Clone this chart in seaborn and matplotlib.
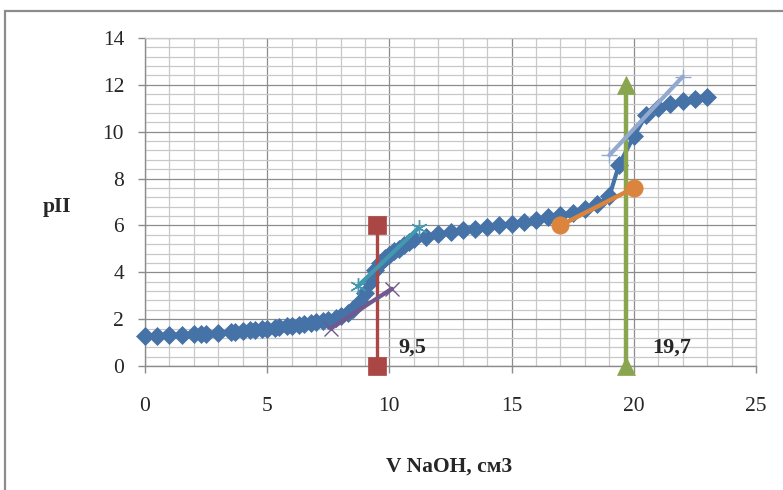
import numpy as np
import pandas as pd
import seaborn as sns
import matplotlib.pyplot as plt
from matplotlib.ticker import MultipleLocator

# titration curve (blue diamonds)
v_naoh = [0, 0.5, 1, 1.5, 2, 2.3, 2.5, 3, 3.5, 3.7, 4, 4.3, 4.5, 4.8, 5, 5.3,
          5.5, 5.8, 6, 6.3, 6.5, 6.8, 7, 7.3, 7.5, 7.8, 8, 8.3, 8.5, 8.8, 9,
          9.2, 9.4, 9.6, 9.8, 10, 10.2, 10.4, 10.6, 10.8, 11, 11.5, 12, 12.5,
          13, 13.5, 14, 14.5, 15, 15.5, 16, 16.5, 17, 17.5, 18, 18.5, 19,
          19.4, 20, 20.5, 21, 21.5, 22, 22.5, 23]
ph = [1.30, 1.30, 1.32, 1.33, 1.35, 1.37, 1.38, 1.40, 1.45, 1.47, 1.50, 1.53,
      1.55, 1.58, 1.60, 1.63, 1.66, 1.70, 1.72, 1.76, 1.79, 1.83, 1.88, 1.93,
      1.98, 2.05, 2.12, 2.25, 2.45, 2.75, 3.10, 3.60, 4.10, 4.40, 4.60, 4.75,
      4.90, 5.00, 5.15, 5.30, 5.40, 5.52, 5.62, 5.72, 5.80, 5.86, 5.92, 6.00,
      6.08, 6.16, 6.25, 6.35, 6.45, 6.55, 6.70, 6.90, 7.25, 8.60, 9.80, 10.70,
      11.00, 11.20, 11.30, 11.40, 11.50]

# first equivalence point (vertical marker line)
eq1_x = [9.5, 9.5]
eq1_y = [0, 6]
# second equivalence point
eq2_x = [19.7, 19.7]
eq2_y = [0, 12]
# tangent lines
tan1_x = [7.6, 10.1]
tan1_y = [1.6, 3.3]
tan2_x = [8.7, 11.2]
tan2_y = [3.4, 5.9]
tan3_x = [17, 20]
tan3_y = [6.0, 7.6]
tan4_x = [19.0, 22.0]
tan4_y = [9.0, 12.35]

sns.set_style("white")
plt.rcParams['font.family'] = ['Liberation Serif', 'DejaVu Serif']

fig = plt.figure(figsize=(7.83, 4.9), dpi=100)
ax = fig.add_axes([145/783, 1-366/490, 611/783, 328/490])

def draw(x, y, color, marker, ms, lw, mew=1.5, z=3):
    sns.lineplot(x=x, y=y, ax=ax, color=color, marker=marker, markersize=ms,
                 linewidth=lw, markeredgecolor=color, markeredgewidth=mew,
                 estimator=None, sort=False, clip_on=False, zorder=z)

draw(v_naoh, ph, '#4572A7', 'D', 8.8, 3.0, mew=0.5, z=3)
draw(eq1_x, eq1_y, '#AA4643', 's', 12.5, 2.4, mew=0.5, z=4)
draw(eq2_x, eq2_y, '#89A54E', '^', 13, 3.2, mew=0.5, z=5)
draw(tan1_x, tan1_y, '#71588F', 'x', 10, 3.0, mew=1.0, z=6)
draw(tan2_x, tan2_y, '#4198AF', (6, 2, 0), 12, 3.0, mew=1.0, z=7)
draw(tan3_x, tan3_y, '#DB843D', 'o', 12.5, 3.2, mew=0.5, z=8)
draw(tan4_x, tan4_y, '#93A9CF', '+', 12, 3.0, mew=1.0, z=9)

ax.text(10.35, 0.8, "9,5", fontsize=16, fontweight='bold', va='center', ha='left')
ax.text(20.75, 0.8, "19,7", fontsize=16, fontweight='bold', va='center', ha='left')

ax.set_xlim(0, 25)
ax.set_ylim(0, 14)
ax.xaxis.set_major_locator(MultipleLocator(5))
ax.xaxis.set_minor_locator(MultipleLocator(1))
ax.yaxis.set_major_locator(MultipleLocator(2))
ax.yaxis.set_minor_locator(MultipleLocator(0.4))
ax.grid(which='major', color='#8c8c8c', linewidth=0.9)
ax.grid(which='minor', color='#c8c8c8', linewidth=0.9)
ax.set_axisbelow(True)

for s in ['top', 'right']:
    ax.spines[s].set_color('#c8c8c8')
    ax.spines[s].set_linewidth(0.9)
for s in ['left', 'bottom']:
    ax.spines[s].set_color('#8c8c8c')
    ax.spines[s].set_linewidth(1.0)

ax.tick_params(which='major', direction='out', length=5, width=1, color='#8c8c8c',
               labelsize=15.5)
ax.tick_params(axis='x', which='major', pad=17)
ax.tick_params(axis='y', which='major', pad=10)
ax.tick_params(which='minor', length=0)
ax.tick_params(left=True, bottom=True)

ax.set_xlabel("V NaOH, см3", fontsize=15.5, fontweight='bold')
ax.set_ylabel("pII", fontsize=15.5, fontweight='bold', rotation=0, va='center')
ax.xaxis.set_label_coords(0.498, -0.277)
ax.yaxis.set_label_coords(-0.144, 0.485)

fig.add_artist(plt.Rectangle((5/783, -0.05), 1.2, 1-11/490+0.05,
                             transform=fig.transFigure, fill=False,
                             edgecolor='#8c8c8c', linewidth=1.6))

fig.savefig("out.png", dpi=100)
